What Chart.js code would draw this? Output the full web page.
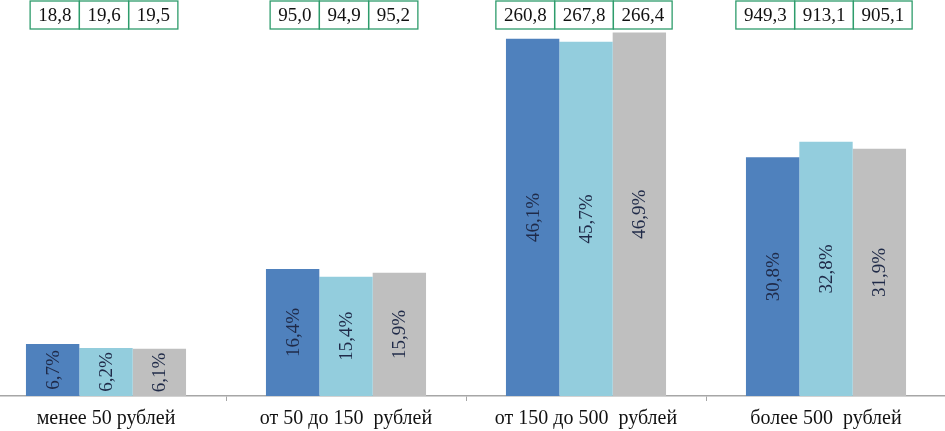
<!DOCTYPE html>
<html>
<head>
<meta charset="utf-8">
<script src="https://cdn.jsdelivr.net/npm/chart.js@4/dist/chart.umd.min.js"></script>
<style>
  html, body { margin: 0; padding: 0; background: #fff; overflow: hidden; }
  #wrap { position: absolute; left: -14px; top: 0; width: 960px; height: 431px; }
</style>
</head>
<body>
<div id="wrap"><canvas id="c"></canvas></div>
<script>
const categories = ['менее 50 рублей', 'от 50 до 150  рублей', 'от 150 до 500  рублей', 'более 500  рублей'];
const share1 = [6.7, 16.4, 46.1, 30.8];
const share2 = [6.2, 15.4, 45.7, 32.8];
const share3 = [6.1, 15.9, 46.9, 31.9];
const amount1 = [18.8, 95.0, 260.8, 949.3];
const amount2 = [19.6, 94.9, 267.8, 913.1];
const amount3 = [19.5, 95.2, 266.4, 905.1];

const colors = ['#4f81bd', '#93cddd', '#bfbfbf'];
const fmt = v => v.toFixed(1).replace('.', ',');

const labelsPlugin = {
  id: 'labelsPlugin',
  afterDatasetsDraw(chart) {
    const ctx = chart.ctx;
    ctx.save();
    ctx.font = '19px "Liberation Serif", "Times New Roman", serif';
    ctx.fillStyle = '#1f2a48';
    ctx.textAlign = 'center';
    ctx.textBaseline = 'middle';
    chart.data.datasets.forEach((ds, di) => {
      const meta = chart.getDatasetMeta(di);
      meta.data.forEach((bar, i) => {
        const cy = (bar.y + bar.base) / 2;
        ctx.save();
        ctx.translate(bar.x, cy);
        ctx.rotate(-Math.PI / 2);
        ctx.fillText(fmt(ds.data[i]) + '%', 0, 1);
        ctx.restore();
      });
    });
    const xs = chart.scales.x;
    const amounts = [amount1, amount2, amount3];
    ctx.font = '19px "Liberation Serif", "Times New Roman", serif';
    ctx.strokeStyle = '#2e9c6c';
    ctx.lineWidth = 1.3;
    categories.forEach((c, i) => {
      const texts = amounts.map(a => fmt(a[i]));
      const widths = texts.map(t => ctx.measureText(t).width + 16);
      const total = widths.reduce((s, w) => s + w, 0);
      let x = xs.getPixelForValue(i) - total / 2 - 2;
      const top = 1, h = 28;
      texts.forEach((t, k) => {
        ctx.strokeRect(x, top, widths[k], h);
        ctx.fillStyle = '#111';
        ctx.fillText(t, x + widths[k] / 2, top + h / 2 + 1);
        x += widths[k];
      });
    });
    ctx.restore();
  }
};

new Chart(document.getElementById('c'), {
  type: 'bar',
  data: {
    labels: categories,
    datasets: [
      { data: share1, backgroundColor: colors[0] },
      { data: share2, backgroundColor: colors[1] },
      { data: share3, backgroundColor: colors[2] }
    ]
  },
  options: {
    responsive: true,
    maintainAspectRatio: false,
    animation: false,
    events: [],
    layout: { padding: { top: 8.5, left: 0, right: 0, bottom: 0 } },
    plugins: { legend: { display: false }, tooltip: { enabled: false } },
    datasets: { bar: { categoryPercentage: 0.667, barPercentage: 1.0 } },
    scales: {
      y: { display: false, min: 0, max: 50 },
      x: {
        afterFit(scale) { scale.height = 35; },
        border: { display: true, color: '#a6a6a6', width: 1.5 },
        grid: { display: true, drawOnChartArea: false, drawTicks: true, tickLength: 5, color: '#a6a6a6', offset: true },
        ticks: {
          color: '#111',
          padding: 6,
          font: { family: '"Liberation Serif", "Times New Roman", serif', size: 20 }
        }
      }
    }
  },
  plugins: [labelsPlugin]
});
</script>
</body>
</html>
